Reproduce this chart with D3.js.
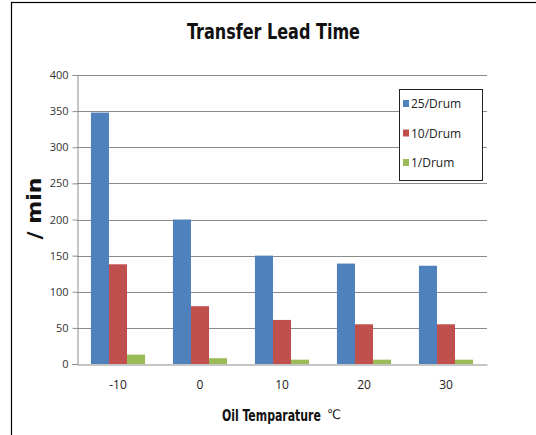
<!DOCTYPE html>
<html>
<head>
<meta charset="utf-8">
<script src="https://cdn.jsdelivr.net/npm/d3@7"></script>
<style>
  html, body { margin: 0; padding: 0; background: #fff; }
  svg { display: block; }
  text { font-family: "Liberation Sans Narrow", "DejaVu Sans Condensed", "Open Sans", sans-serif; }
</style>
</head>
<body>
<svg id="chart" width="536" height="435"></svg>
<script>
// Oil temperature categories (°C)
const categories = ["-10", "0", "10", "20", "30"];
const seriesNames = ["25/Drum", "10/Drum", "1/Drum"];
const drum25 = [348, 200, 150, 139, 136];
const drum10 = [138, 80, 61, 55, 55];
const drum1 = [13, 8, 6, 6, 6];
const yTicks = [0, 50, 100, 150, 200, 250, 300, 350, 400];
const colors = ["#4F81BD", "#C0504D", "#9BBB59"];

const seriesValues = [drum25, drum10, drum1];
const rows = categories.map((c, i) => ({
  cat: c,
  vals: seriesNames.map((s, k) => ({ series: s, k, value: seriesValues[k][i] }))
}));

const svg = d3.select("#chart");
const plot = { left: 77, right: 487, top: 75, bottom: 364 };
const bodyFont = "'Open Sans', 'Liberation Sans', sans-serif";

// Squeeze a text horizontally to a target width (condensed look)
function fitWidth(sel, x, y, width) {
  const w = sel.node().getComputedTextLength();
  const sx = w > 0 ? width / w : 1;
  sel.attr("transform", `translate(${x},${y}) scale(${sx},1)`);
}

// chart frame
svg.append("rect")
  .attr("x", 11.5).attr("y", 2.5)
  .attr("width", 540).attr("height", 440)
  .attr("fill", "none").attr("stroke", "#000").attr("stroke-width", 1.2);

const x0 = d3.scaleBand().domain(categories)
  .range([plot.left, plot.right]).paddingInner(0.34).paddingOuter(0.17);
const x1 = d3.scaleBand().domain(seriesNames).range([0, x0.bandwidth()]);
const y = d3.scaleLinear().domain([0, 400]).range([plot.bottom, plot.top]);

// gridlines
svg.append("g").selectAll("line").data(yTicks.filter(t => t > 0)).join("line")
  .attr("x1", plot.left).attr("x2", plot.right)
  .attr("y1", d => Math.round(y(d)) + 0.5).attr("y2", d => Math.round(y(d)) + 0.5)
  .attr("stroke", "#8c8c8c").attr("stroke-width", 1);

// y axis
const yAxis = svg.append("g")
  .attr("transform", `translate(${plot.left + 0.5},0)`)
  .call(d3.axisLeft(y).tickValues(yTicks).tickSize(5).tickPadding(4));
yAxis.select(".domain").attr("stroke", "#8c8c8c");
yAxis.selectAll(".tick line").attr("stroke", "#8c8c8c");
yAxis.selectAll(".tick text").attr("font-size", 11).attr("fill", "#333")
  .style("font-family", bodyFont);

// bars
svg.append("g").selectAll("g").data(rows).join("g")
  .attr("transform", d => `translate(${x0(d.cat)},0)`)
  .selectAll("rect").data(d => d.vals).join("rect")
  .attr("x", d => x1(d.series))
  .attr("y", d => y(d.value))
  .attr("width", x1.bandwidth())
  .attr("height", d => y(0) - y(d.value))
  .attr("fill", d => colors[d.k]);

// x axis
const xAxis = svg.append("g")
  .attr("transform", `translate(0,${plot.bottom + 0.5})`)
  .call(d3.axisBottom(x0).tickSize(0).tickPadding(16));
xAxis.select(".domain").attr("stroke", "#8c8c8c");
xAxis.selectAll(".tick text").attr("font-size", 12).attr("fill", "#222")
  .style("font-family", bodyFont);

// title
svg.append("text")
  .attr("x", 273.5).attr("y", 39)
  .attr("text-anchor", "middle")
  .attr("font-size", 22).attr("font-weight", "bold").attr("fill", "#111")
  .attr("textLength", 173).attr("lengthAdjust", "spacingAndGlyphs")
  .text("Transfer Lead Time");

// axis titles
svg.append("text")
  .attr("transform", "translate(41,208.5) rotate(-90)")
  .attr("text-anchor", "middle")
  .attr("font-size", 19).attr("font-weight", "bold").attr("fill", "#111")
  .attr("textLength", 62).attr("lengthAdjust", "spacingAndGlyphs")
  .text("/ min");

const xTitle = svg.append("text")
  .attr("font-size", 15).attr("font-weight", "bold").attr("fill", "#111")
  .text("Oil Temparature");
fitWidth(xTitle, 222, 421, 99);

const degC = svg.append("text")
  .attr("font-size", 13).attr("fill", "#222")
  .style("font-family", "'DejaVu Sans Condensed', 'DejaVu Sans', sans-serif")
  .text("℃");
fitWidth(degC, 327, 419, 14);

// legend
const legend = svg.append("g").attr("transform", "translate(399,89)");
legend.append("rect")
  .attr("x", 0.5).attr("y", 0.5).attr("width", 83).attr("height", 91)
  .attr("fill", "#fff").attr("stroke", "#222").attr("stroke-width", 1);
const item = legend.selectAll("g.item").data(seriesNames).join("g")
  .attr("class", "item")
  .attr("transform", (d, i) => `translate(0,${15 + i * 29.5})`);
item.append("rect")
  .attr("x", 4).attr("y", -4).attr("width", 6).attr("height", 7)
  .attr("fill", (d, i) => colors[i]);
item.append("text")
  .attr("x", 12).attr("y", 4)
  .attr("font-size", 12).attr("fill", "#222")
  .style("font-family", bodyFont)
  .text(d => d);
</script>
</body>
</html>
